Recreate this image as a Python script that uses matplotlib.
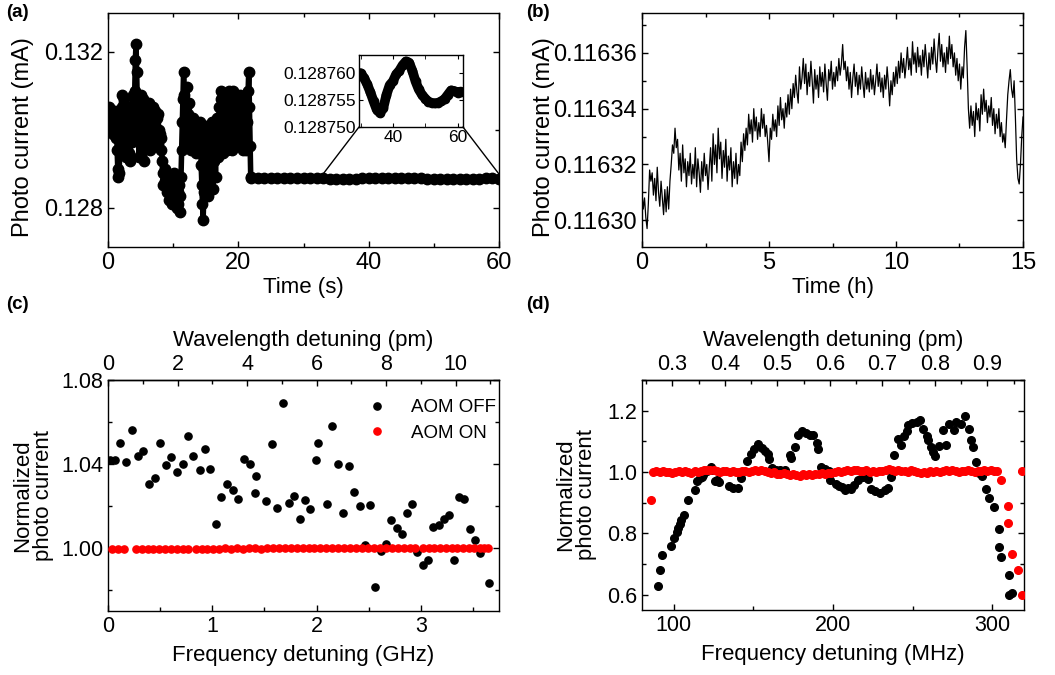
import numpy as np
import matplotlib
matplotlib.use("Agg")
import matplotlib.pyplot as plt
from matplotlib.patches import ConnectionPatch
from matplotlib.ticker import MultipleLocator, FormatStrFormatter

plt.rcParams['font.family'] = ['Liberation Sans', 'DejaVu Sans']
plt.rcParams['xtick.direction'] = 'in'
plt.rcParams['ytick.direction'] = 'in'
plt.rcParams['axes.linewidth'] = 1.0

# ---------------- Panel (a) data ----------------
a_fast_step_s = 0.1          # sampling step of the first 22 s
a_fast_uA = [
    130.5, 130.4, 130.6, 130.2, 130.5, 130.0, 130.4, 130.3, 129.9, 130.4,
    130.1, 130.5, 129.8, 130.3, 129.5, 129.0, 128.8, 128.9, 129.4, 130.0,
    130.4, 130.9, 130.6, 130.2, 130.8, 130.0, 129.6, 130.3, 129.3, 130.1,
    130.6, 130.1, 129.4, 130.3, 129.2, 130.5, 130.0, 129.7, 130.9, 130.4,
    130.0, 131.0, 131.8, 132.2, 131.5, 130.6, 129.8, 130.2, 129.3, 130.5,
    130.9, 130.2, 129.6, 130.4, 130.8, 129.9, 129.2, 130.1, 130.6, 129.8,
    130.2, 129.7, 130.4, 130.7, 130.0, 129.5, 130.3, 130.1, 129.9, 130.6,
    130.2, 129.6, 130.5, 130.0, 129.7, 130.3, 129.9, 130.4, 129.8, 130.0,
    129.9, 129.5, 129.8, 129.2, 128.9, 128.6, 128.9, 128.7, 129.0, 128.6,
    128.9, 128.4, 128.7, 128.2, 128.5, 128.8, 128.3, 128.6, 128.1, 128.5,
    128.8, 128.4, 128.9, 128.6, 128.2, 128.7, 128.0, 128.4, 128.1, 128.6,
    128.3, 127.9, 128.8, 129.5, 130.2, 130.8, 131.5, 130.9, 130.3, 129.6,
    130.6, 131.1, 130.4, 129.9, 130.7, 130.2, 129.7, 130.1, 129.5, 129.9,
    130.3, 129.8, 130.0, 129.6, 129.9, 129.4, 129.8, 130.1, 129.7, 130.0,
    129.5, 130.2, 129.8, 129.1, 128.6, 128.1, 127.7, 128.4, 129.0, 129.6,
    130.1, 129.3, 128.6, 129.0, 128.3, 129.5, 129.9, 128.7, 129.4, 130.2,
    129.6, 128.5, 129.2, 130.0, 129.4, 128.8, 129.7, 130.3, 129.9, 129.3,
    130.0, 130.6, 129.5, 130.8, 131.0, 130.2, 129.4, 130.5, 130.9, 130.0,
    130.4, 130.9, 130.1, 129.5, 130.7, 131.0, 130.3, 129.6, 130.6, 130.8,
    130.2, 129.5, 131.0, 130.4, 129.8, 130.9, 130.5, 129.6, 130.2, 130.8,
    130.5, 129.7, 130.6, 130.9, 129.9, 130.4, 130.8, 129.5, 130.3, 130.7,
    130.0, 129.5, 130.2, 130.6, 130.2, 131.0, 131.5, 130.6, 129.6, 128.8,
]
a_slow_time_s = [22, 23, 24, 25, 26, 27, 28, 29, 30, 31, 32, 33, 34, 35, 36, 37,
                 38, 39, 40, 41, 42, 43, 44, 45, 46, 47, 48, 49, 50, 51, 52, 53,
                 54, 55, 56, 57, 58, 59, 60, 61]
a_slow_mA = [
    0.1287598, 0.1287601, 0.1287603, 0.1287600, 0.1287597, 0.1287599, 0.1287602, 0.1287601,
    0.1287600, 0.1287592, 0.1287580, 0.1287565, 0.1287548, 0.1287532, 0.1287526, 0.1287535,
    0.1287560, 0.1287578, 0.1287585, 0.1287598, 0.1287605, 0.1287615, 0.1287622, 0.1287620,
    0.1287605, 0.1287585, 0.1287570, 0.1287560, 0.1287553, 0.1287547, 0.1287545, 0.1287544,
    0.1287545, 0.1287548, 0.1287552, 0.1287560, 0.1287568, 0.1287567, 0.1287564, 0.1287566,
]

# ---------------- Panel (b) data ----------------
b_step_h = 0.05
b_base_mA = 0.1163
b_offset_nA = [
    10, 4, 8, 1, -3, 6, 18, 14, 17, 9, 15, 7, 19, 10, 5, 14, 8, 2, 11, 3,
    12, 4, 14, 20, 27, 24, 33, 26, 29, 18, 24, 14, 27, 17, 22, 12, 21, 16, 24, 13,
    20, 15, 26, 12, 22, 17, 10, 21, 14, 24, 16, 20, 11, 19, 26, 14, 31, 20, 27, 17,
    33, 22, 28, 15, 25, 19, 29, 14, 23, 18, 26, 12, 21, 15, 24, 13, 20, 16, 28, 21,
    31, 25, 33, 27, 38, 31, 36, 28, 40, 32, 37, 29, 35, 30, 40, 33, 38, 30, 34, 28,
    21, 33, 29, 38, 32, 36, 30, 41, 34, 44, 36, 40, 33, 42, 37, 45, 38, 47, 40, 49,
    44, 52, 46, 42, 55, 47, 51, 58, 49, 56, 45, 53, 48, 57, 50, 42, 54, 47, 52, 44,
    55, 48, 53, 46, 56, 49, 43, 54, 50, 57, 47, 53, 48, 55, 50, 58, 52, 56, 63, 54,
    57, 50, 55, 47, 53, 44, 51, 56, 48, 53, 45, 52, 47, 55, 49, 44, 53, 47, 51, 46,
    54, 47, 52, 45, 50, 56, 48, 53, 46, 51, 44, 52, 47, 55, 49, 41, 50, 45, 53, 48,
    55, 49, 57, 51, 60, 53, 58, 51, 56, 62, 54, 58, 52, 64, 56, 60, 53, 62, 55, 59,
    52, 61, 55, 63, 57, 51, 60, 54, 62, 56, 65, 58, 53, 61, 67, 57, 63, 55, 60, 53,
    62, 56, 66, 58, 63, 55, 60, 52, 58, 50, 56, 47, 55, 51, 62, 68, 55, 40, 33, 41,
    34, 39, 30, 42, 36, 40, 32, 45, 38, 47, 39, 43, 35, 41, 37, 44, 34, 40, 31, 38,
    33, 40, 30, 35, 28, 31, 26, 36, 45, 50, 54, 47, 44, 50, 37, 22, 15, 13, 20, 30,
    37,
]

# ---------------- Panel (c) data ----------------
c_off_GHz = [0.02, 0.064, 0.118, 0.176, 0.23, 0.284, 0.34, 0.396, 0.447, 0.498,
             0.552, 0.606, 0.66, 0.715, 0.769, 0.82, 0.878, 0.929, 0.983, 1.037,
             1.085, 1.143, 1.197, 1.251, 1.305, 1.36, 1.414, 1.424, 1.519, 1.574,
             1.625, 1.676, 1.733, 1.784, 1.839, 1.886, 1.941, 1.995, 2.011, 2.10,
             2.151, 2.206, 2.257, 2.308, 2.362, 2.413, 2.461, 2.509, 2.563, 2.614,
             2.665, 2.716, 2.767, 2.818, 2.866, 2.917, 2.968, 3.019, 3.071, 3.118,
             3.17, 3.224, 3.271, 3.319, 3.367, 3.418, 3.47, 3.517, 3.568, 3.655]
c_off_norm = [1.042, 1.042, 1.050, 1.041, 1.056, 1.0436, 1.046, 1.0306, 1.0333, 1.050,
              1.0396, 1.0434, 1.036, 1.040, 1.0535, 1.044, 1.037, 1.047, 1.0374, 1.0112,
              1.0244, 1.0307, 1.0277, 1.0233, 1.0426, 1.040, 1.0261, 1.0345, 1.0222, 1.0494,
              1.0189, 1.069, 1.0214, 1.0246, 1.0136, 1.0227, 1.0185, 1.0417, 1.050, 1.021,
              1.058, 1.040, 1.0169, 1.039, 1.0265, 1.020, 1.0016, 1.0206, 0.9815, 0.9984,
              1.0019, 1.0135, 1.0095, 1.0067, 1.0169, 1.021, 0.9981, 0.9921, 0.9945, 1.0101,
              1.0111, 1.0139, 1.0158, 0.9941, 1.0242, 1.0231, 1.0092, 1.0038, 0.9976, 0.9834]
c_on_GHz = [0.035, 0.095, 0.155,
            0.265, 0.322, 0.379, 0.436, 0.493, 0.550, 0.607, 0.664, 0.721, 0.772,
            0.840, 0.897, 0.954, 1.011, 1.068, 1.125, 1.182, 1.239, 1.296, 1.353,
            1.410, 1.467, 1.524, 1.581, 1.638, 1.695, 1.752, 1.809, 1.866, 1.923,
            1.980, 2.037, 2.094, 2.151, 2.208, 2.265, 2.322, 2.379, 2.436, 2.493,
            2.550, 2.607, 2.664, 2.721, 2.778, 2.835, 2.892, 2.949,
            3.020, 3.075, 3.130, 3.185, 3.240, 3.295, 3.350, 3.405, 3.460, 3.515,
            3.570, 3.610, 3.640]
c_on_norm = [0.9995, 0.9995, 0.9996,
             0.9996, 0.9995, 0.9996, 0.9996, 0.9995, 0.9996, 0.9996, 0.9997, 0.9996, 0.9997,
             0.9996, 0.9997, 0.9996, 0.9997, 0.9997, 0.9998, 0.9997, 0.9998, 0.9997, 0.9998,
             0.9998, 0.9997, 0.9998, 0.9998, 0.9999, 0.9998, 0.9998, 0.9999, 0.9998, 0.9999,
             0.9999, 1.0000, 0.9999, 0.9999, 1.0000, 0.9999, 1.0000, 1.0000, 0.9999, 1.0000,
             1.0000, 1.0001, 1.0000, 1.0000, 1.0001, 1.0000, 1.0001, 0.9998,
             1.0000, 1.0001, 1.0001, 1.0000, 1.0001, 1.0002, 1.0001, 1.0001, 1.0002, 1.0001,
             1.0002, 1.0002, 1.0002]
c_pm_per_GHz = 3.0

# ---------------- Panel (d) data ----------------
d_off_MHz = [89.8, 91.2, 92.8, 98.4, 100.0, 101.8, 102.9, 103.9, 104.7, 106.4,
             109.2, 113.3, 114.3, 116.4, 117.8, 118.4, 120.9, 123.5, 124.0, 126.0,
             127.2, 128.3, 134.8, 137.3, 140.0, 142.0, 145.7, 148.2, 150.6, 152.7,
             155.3, 157.5, 159.4, 159.8, 161.9, 164.0, 167.0, 170.0, 172.7, 173.8,
             176.0, 178.0, 180.5, 183.0, 185.5, 187.5, 190.2, 190.8, 192.6, 195.0,
             197.7, 198.2, 201.6, 203.7, 205.5, 207.8, 209.4, 211.0, 212.9, 215.6,
             219.0, 221.7, 223.8, 226.2, 229.3, 232.4, 234.8, 236.5, 238.5, 241.0,
             242.6, 244.5, 246.3, 247.3, 249.8, 252.9, 254.9, 256.6, 259.0, 259.4,
             261.5, 263.1, 264.1, 266.8, 269.3, 271.3, 272.9, 275.8, 277.0, 280.5,
             283.2, 285.7, 286.7, 288.1, 289.8, 291.8, 293.7, 296.3, 298.0, 301.4,
             304.1, 304.1, 305.3, 310.7, 310.7, 312.3]
d_off_norm = [0.629, 0.679, 0.729, 0.759, 0.784, 0.803, 0.816, 0.832, 0.843, 0.859,
              0.910, 0.941, 0.970, 0.982, 0.984, 0.989, 1.002, 1.016, 1.008, 0.970,
              0.973, 0.968, 0.954, 0.949, 0.949, 0.982, 1.035, 1.059, 1.076, 1.091,
              1.078, 1.070, 1.059, 1.043, 1.013, 1.008, 1.005, 1.008, 1.056, 1.046,
              1.082, 1.121, 1.135, 1.128, 1.122, 1.121, 1.096, 1.074, 1.016, 1.010,
              1.002, 0.973, 0.962, 0.954, 0.950, 0.941, 0.949, 0.945, 0.957, 0.973,
              0.984, 0.976, 0.946, 0.938, 0.930, 0.941, 0.949, 0.984, 1.054, 1.108,
              1.089, 1.118, 1.135, 1.154, 1.159, 1.162, 1.170, 1.141, 1.119, 1.103,
              1.081, 1.065, 1.051, 1.086, 1.137, 1.089, 1.157, 1.137, 1.162, 1.155,
              1.181, 1.141, 1.105, 1.083, 1.032, 0.997, 0.987, 0.946, 0.914, 0.886,
              0.813, 0.755, 0.724, 0.663, 0.600, 0.605]
d_on_MHz = [85.8,
            87, 89, 91, 93, 95, 97, 99, 101, 103, 105,
            107, 109, 111, 113, 115, 117, 119, 121, 123, 125,
            127, 129, 131, 133, 135, 137, 139, 141, 143, 145,
            147, 149, 151, 153, 155, 157, 159, 161, 163, 165,
            167, 169, 171, 173, 175, 177, 179, 181, 183, 185,
            187, 189, 191, 193, 195, 197, 199, 201, 203, 205,
            207, 209, 211, 213, 215, 217, 219, 221, 223, 225,
            227, 229, 231, 233, 235, 237, 239, 241, 243, 245,
            247, 249, 251, 253, 255, 257, 259, 261, 263, 265,
            267, 269, 271, 273, 275, 277, 279, 281, 283, 285,
            287, 289, 291, 293, 295, 297, 299, 301, 303,
            305.5, 310.2, 310.2, 312.6, 316.3, 318.8, 318.8]
d_on_norm = [0.908,
             1.000, 1.002, 1.001, 1.003, 0.999, 1.001, 0.998, 1.000, 1.002, 0.999,
             1.003, 1.001, 0.998, 1.002, 1.000, 1.004, 1.006, 1.008, 1.007, 1.005,
             1.003, 1.001, 1.004, 1.002, 1.000, 1.003, 1.001, 0.999, 1.002, 1.004,
             1.001, 1.003, 1.005, 1.002, 1.006, 1.003, 0.999, 0.997, 1.000, 0.995,
             0.993, 0.996, 0.992, 0.990, 0.994, 0.991, 0.988, 0.992, 0.990, 0.994,
             0.991, 0.995, 0.993, 0.997, 0.994, 0.998, 0.996, 1.000, 1.002, 0.999,
             1.003, 1.005, 1.002, 1.006, 1.008, 1.004, 1.002, 1.005, 1.001, 1.003,
             1.000, 1.004, 1.002, 1.006, 1.009, 1.005, 1.003, 1.006, 1.002, 1.004,
             1.001, 1.005, 1.003, 1.000, 0.997, 1.001, 0.998, 1.002, 0.999, 1.004,
             1.001, 1.003, 1.005, 1.002, 1.006, 1.003, 1.001, 1.004, 1.002, 1.005,
             1.003, 1.000, 1.004, 1.002, 1.005, 1.003, 1.006, 1.004, 1.002,
             0.973, 0.890, 0.835, 0.734, 0.680, 0.598, 1.002]
d_pm_per_MHz = 0.00303

# ---------------- Figure ----------------
W, H = 1055, 675
fig = plt.figure(figsize=(W / 100, H / 100), dpi=100)


def px_axes(l, t, r, b):
    return fig.add_axes([l / W, 1 - b / H, (r - l) / W, (b - t) / H])


TICK_AB = 17
TICK_CD = 15.5
LAB = 16
YLAB_AB = 17


def style(ax, size):
    ax.tick_params(which='both', direction='in', labelsize=size, width=1.0)
    ax.tick_params(which='major', length=4)
    ax.tick_params(which='minor', length=3)


# ---- (a)
axA = px_axes(108, 13, 499, 247)
t_fast = np.arange(len(a_fast_uA)) * a_fast_step_s
I_fast = np.array(a_fast_uA) / 1000.0
axA.plot(t_fast, I_fast, '-', color='k', lw=4.0)
axA.plot(t_fast, I_fast, 'o', color='k', ms=7.5, mec='k')
axA.plot(a_slow_time_s, a_slow_mA, 'o', color='k', ms=7.5, mec='k')
axA.set_xlim(0, 60)
axA.set_ylim(0.127, 0.133)
axA.xaxis.set_major_locator(MultipleLocator(20))
axA.xaxis.set_minor_locator(MultipleLocator(10))
axA.yaxis.set_major_locator(MultipleLocator(0.004))
axA.yaxis.set_minor_locator(MultipleLocator(0.002))
axA.yaxis.set_major_formatter(FormatStrFormatter('%.3f'))
style(axA, TICK_AB)
axA.tick_params(which='both', top=True, right=True)
axA.set_xlabel('Time (s)', fontsize=LAB, labelpad=2)
axA.set_ylabel('Photo current (mA)', fontsize=YLAB_AB)
axA.yaxis.set_label_coords(-0.19, 0.47)

# inset
axI = px_axes(359, 55, 463, 127)
axI.plot(a_slow_time_s, a_slow_mA, '-', color='k', lw=7, solid_capstyle='round')
axI.plot(a_slow_time_s, a_slow_mA, 'o', color='k', ms=6)
axI.set_xlim(29.5, 61.7)
axI.set_ylim(0.12875, 0.1287634)
axI.xaxis.set_major_locator(MultipleLocator(20))
axI.xaxis.set_minor_locator(MultipleLocator(10))
axI.yaxis.set_major_locator(MultipleLocator(0.000005))
axI.yaxis.set_major_formatter(FormatStrFormatter('%.6f'))
axI.tick_params(which='both', direction='in', labelsize=12.5, length=3, top=True, right=True, pad=2)
for xa, ya, xb in ((0, 0, 33), (1, 0, 60)):
    con = ConnectionPatch(xyA=(xa, ya), coordsA=axI.transAxes,
                          xyB=(xb, 0.12887), coordsB=axA.transData,
                          color='k', lw=1.0)
    fig.add_artist(con)

# ---- (b)
axB = px_axes(642, 13, 1023, 247)
t_b = np.arange(len(b_offset_nA)) * b_step_h
I_b = b_base_mA + np.array(b_offset_nA) * 1e-6
axB.plot(t_b, I_b, '-', color='k', lw=0.9)
axB.set_xlim(0, 15)
axB.set_ylim(0.1162904, 0.1163743)
axB.xaxis.set_major_locator(MultipleLocator(5))
axB.xaxis.set_minor_locator(MultipleLocator(2.5))
axB.yaxis.set_major_locator(MultipleLocator(0.00002))
axB.yaxis.set_minor_locator(MultipleLocator(0.00001))
axB.yaxis.set_major_formatter(FormatStrFormatter('%.5f'))
style(axB, TICK_AB)
axB.tick_params(which='both', top=True, right=True)
axB.set_xlabel('Time (h)', fontsize=LAB, labelpad=2)
axB.set_ylabel('Photo current (mA)', fontsize=YLAB_AB)
axB.yaxis.set_label_coords(-0.228, 0.47)

# ---- (c)
axC = px_axes(108, 380, 499, 611)
axC.plot(c_off_GHz, c_off_norm, 'o', color='k', ms=5.2, label='AOM OFF', zorder=2)
axC.plot(c_on_GHz, c_on_norm, 'o', color='#ff0000', mec='#ff0000', ms=5.2, label='AOM ON', zorder=3)
axC.set_xlim(0, 3.75)
axC.set_ylim(0.97, 1.08)
axC.xaxis.set_major_locator(MultipleLocator(1))
axC.xaxis.set_minor_locator(MultipleLocator(0.5))
axC.yaxis.set_major_locator(MultipleLocator(0.04))
axC.yaxis.set_minor_locator(MultipleLocator(0.02))
axC.yaxis.set_major_formatter(FormatStrFormatter('%.2f'))
style(axC, TICK_CD)
axC.tick_params(which='both', top=False, right=True)
axC.set_xlabel('Frequency detuning (GHz)', fontsize=LAB, labelpad=6)
axC.set_ylabel('Normalized\nphoto current', fontsize=LAB, linespacing=1.0)
axC.yaxis.set_label_coords(-0.138, 0.5)
secC = axC.secondary_xaxis('top', functions=(lambda f: f * c_pm_per_GHz,
                                             lambda w: w / c_pm_per_GHz))
secC.xaxis.set_major_locator(MultipleLocator(2))
secC.xaxis.set_minor_locator(MultipleLocator(1))
secC.tick_params(which='both', direction='in', labelsize=TICK_CD, width=1.0)
secC.tick_params(which='major', length=4)
secC.tick_params(which='minor', length=3)
secC.set_xlabel('Wavelength detuning (pm)', fontsize=LAB, labelpad=6)
leg = axC.legend(loc='upper right', frameon=False, fontsize=13.5, handletextpad=0.8,
                 borderaxespad=0.5, labelspacing=0.45, markerscale=1.0,
                 bbox_to_anchor=(1.035, 0.99))

# ---- (d)
axD = px_axes(642, 380, 1024, 610)
axD.plot(d_off_MHz, d_off_norm, 'o', color='k', ms=5.5, zorder=2)
axD.plot(d_on_MHz, d_on_norm, 'o', color='#ff0000', mec='#ff0000', ms=5.5, zorder=3)
axD.set_xlim(80, 320)
axD.set_ylim(0.55, 1.30)
axD.xaxis.set_major_locator(MultipleLocator(100))
axD.xaxis.set_minor_locator(MultipleLocator(50))
axD.yaxis.set_major_locator(MultipleLocator(0.2))
axD.yaxis.set_minor_locator(MultipleLocator(0.1))
axD.yaxis.set_major_formatter(FormatStrFormatter('%.1f'))
style(axD, TICK_CD)
axD.tick_params(which='both', top=False, right=True)
axD.set_xlabel('Frequency detuning (MHz)', fontsize=LAB, labelpad=6)
axD.set_ylabel('Normalized\nphoto current', fontsize=LAB, linespacing=1.0)
axD.yaxis.set_label_coords(-0.118, 0.5)
secD = axD.secondary_xaxis('top', functions=(lambda f: f * d_pm_per_MHz,
                                             lambda w: w / d_pm_per_MHz))
secD.xaxis.set_major_locator(MultipleLocator(0.1))
secD.xaxis.set_minor_locator(MultipleLocator(0.05))
secD.xaxis.set_major_formatter(FormatStrFormatter('%.1f'))
secD.tick_params(which='both', direction='in', labelsize=TICK_CD, width=1.0)
secD.tick_params(which='major', length=4)
secD.tick_params(which='minor', length=3)
secD.set_xlabel('Wavelength detuning (pm)', fontsize=LAB, labelpad=6)

# panel labels
for txt, x, y in (('(a)', 6, 4), ('(b)', 526, 4), ('(c)', 6, 296), ('(d)', 526, 296)):
    fig.text(x / W, 1 - y / H, txt, fontsize=13.5, fontweight='bold', ha='left', va='top')

fig.savefig('out.png', dpi=100)
